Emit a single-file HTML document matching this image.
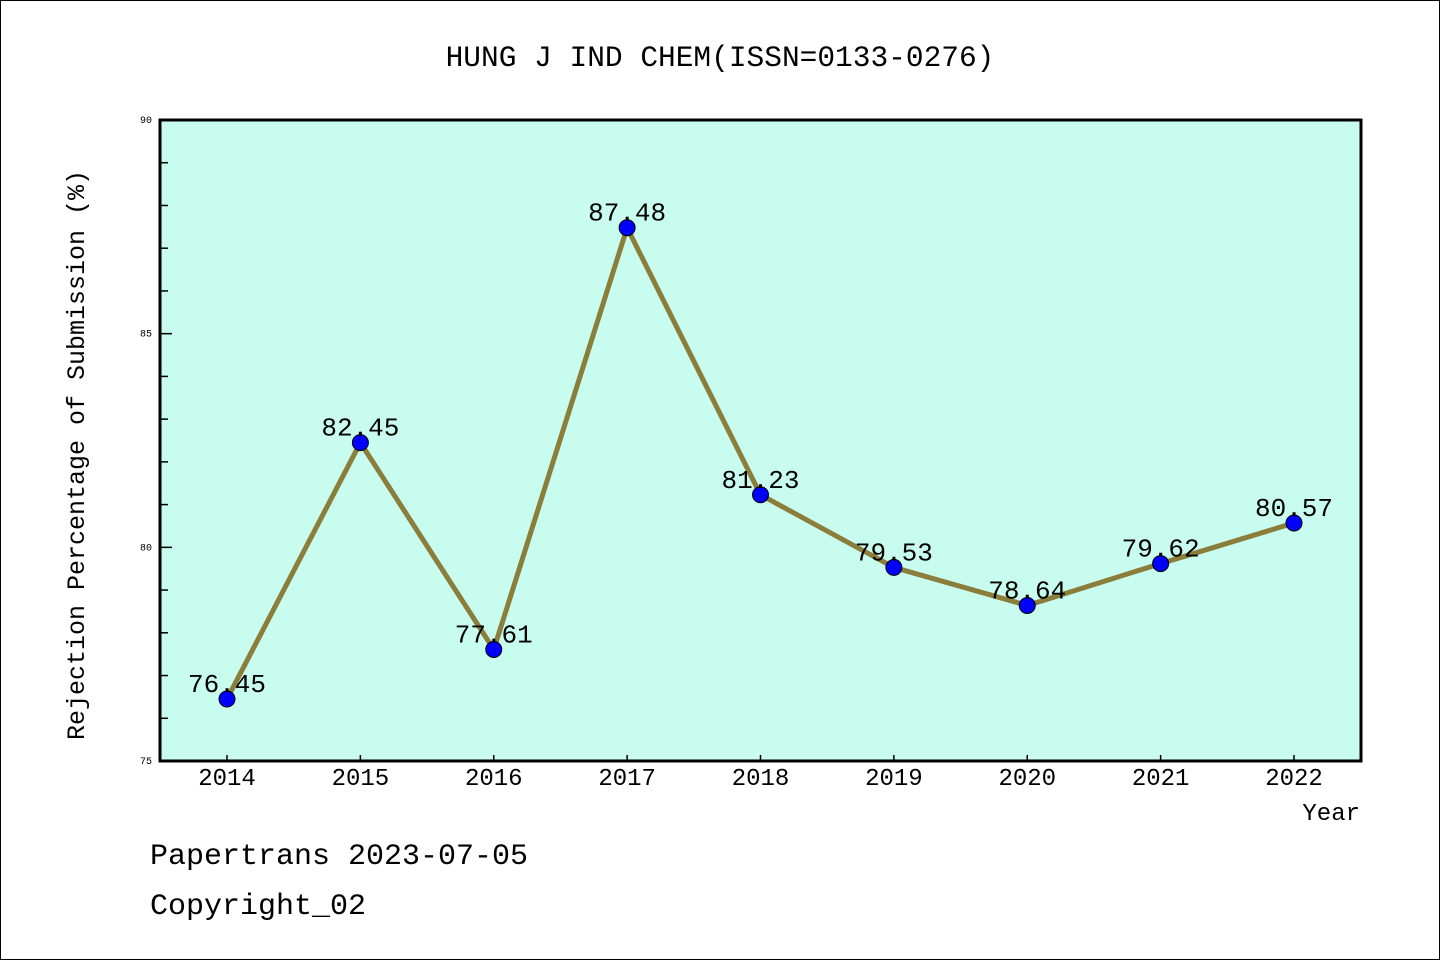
<!DOCTYPE html>
<html><head><meta charset="utf-8"><style>
body{margin:0;background:#fff}
svg{display:block}
text{font-family:"Liberation Mono","DejaVu Sans Mono",monospace;fill:#000}
</style></head><body>
<svg id="c" width="1440" height="960">
<rect x="0.5" y="0.5" width="1439" height="959" fill="#fff" stroke="#000"/>
<text x="720" y="66" text-anchor="middle" font-size="29.5">HUNG J IND CHEM(ISSN=0133-0276)</text>
<rect x="160" y="120" width="1201" height="641" fill="#c8fcee"/>
<g id="ticks"></g>
<g id="series"></g>
<rect x="160" y="120" width="1201" height="641" fill="none" stroke="#000" stroke-width="3"/>
<text transform="translate(84,455) rotate(-90)" text-anchor="middle" font-size="25">Rejection Percentage of Submission (%)</text>
<text x="1360" y="820" text-anchor="end" font-size="24">Year</text>
<text x="150" y="864" font-size="30">Papertrans 2023-07-05</text>
<text x="150" y="914" font-size="30">Copyright_02</text>
</svg>
<script>
const years=["2014","2015","2016","2017","2018","2019","2020","2021","2022"];
const values=[76.45,82.45,77.61,87.48,81.23,79.53,78.64,79.62,80.57];
const yTicks=[75,80,85,90];
const NS="http://www.w3.org/2000/svg";
const x=i=>227+i*(1294-227)/(years.length-1);
const y=v=>761-(v-75)*(761-120)/15;
function mk(t,a,p){const e=document.createElementNS(NS,t);for(const k in a)e.setAttribute(k,a[k]);p.appendChild(e);return e;}
const tg=document.getElementById('ticks'),sg=document.getElementById('series');
for(let v=76;v<90;v++){if(v%5===0)continue;const e=mk('line',{x1:160,x2:168,y1:y(v),y2:y(v),stroke:'#000','stroke-width':1.5},tg);
}
yTicks.forEach(v=>{const l=mk('line',{x1:160,x2:172,y1:y(v),y2:y(v),stroke:'#000','stroke-width':1.5},tg);

const t=mk('text',{x:152,y:y(v)+3,'text-anchor':'end','font-size':10},tg);t.textContent=v;
});
years.forEach((yr,i)=>{const l=mk('line',{x1:x(i),x2:x(i),y1:761,y2:755,stroke:'#000','stroke-width':1.5},tg);

const t=mk('text',{x:x(i),y:785,'text-anchor':'middle','font-size':24},tg);t.textContent=yr;
});
const pl=mk('polyline',{points:values.map((v,i)=>x(i)+','+y(v)).join(' '),fill:'none',stroke:'#8b7d3a','stroke-width':5,'stroke-linejoin':'round'},sg);

values.forEach((v,i)=>{const c=mk('circle',{cx:x(i),cy:y(v),r:8,fill:'#0000ff',stroke:'#000','stroke-width':1},sg);

const t=mk('text',{x:x(i),y:y(v)-7,'text-anchor':'middle','font-size':26},sg);t.textContent=v.toFixed(2);
});
</script>
</body></html>
